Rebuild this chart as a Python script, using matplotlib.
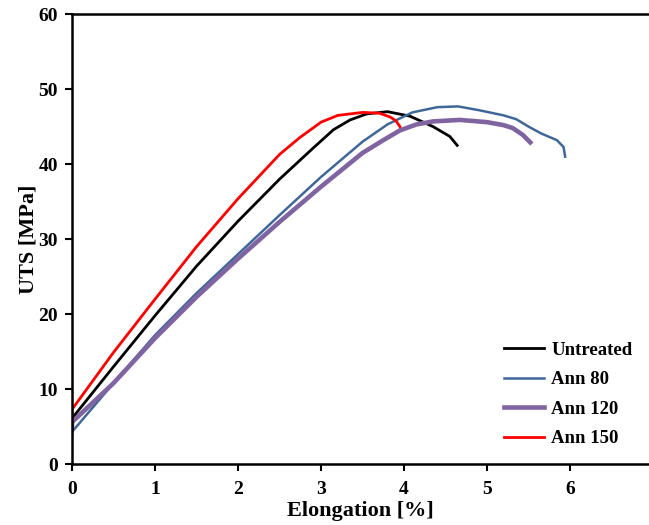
import matplotlib
matplotlib.use("Agg")
import matplotlib.pyplot as plt

# stress-strain curves: elongation [%] vs UTS [MPa]
untreated_x = [0, 0, 0.5, 1.0, 1.5, 2.0, 2.5, 2.9, 3.15, 3.35, 3.55, 3.8, 4.07, 4.35, 4.55, 4.64]
untreated_y = [5.5, 6.1, 13.0, 19.8, 26.4, 32.4, 38.0, 42.1, 44.6, 45.9, 46.7, 47.0, 46.4, 45.0, 43.7, 42.5]

ann80_x = [0, 0.5, 1.0, 1.5, 2.0, 2.5, 3.0, 3.5, 3.8, 4.1, 4.4, 4.65, 4.9, 5.2, 5.35, 5.5, 5.65, 5.84, 5.92, 5.94]
ann80_y = [4.3, 10.8, 17.2, 22.8, 28.0, 33.2, 38.3, 43.0, 45.3, 46.9, 47.6, 47.7, 47.2, 46.5, 46.0, 45.0, 44.1, 43.2, 42.3, 41.0]

ann120_x = [0, 0, 0.5, 1.0, 1.5, 2.0, 2.5, 3.0, 3.5, 3.75, 3.95, 4.15, 4.35, 4.67, 5.0, 5.2, 5.31, 5.43, 5.52]
ann120_y = [4.9, 5.6, 10.8, 16.8, 22.3, 27.4, 32.3, 37.0, 41.5, 43.2, 44.5, 45.3, 45.7, 45.9, 45.6, 45.2, 44.8, 43.9, 42.9]

ann150_x = [0, 0, 0.5, 1.0, 1.5, 2.0, 2.5, 2.75, 3.0, 3.2, 3.5, 3.7, 3.83, 3.9, 3.95]
ann150_y = [4.0, 7.3, 14.9, 22.0, 29.0, 35.4, 41.3, 43.6, 45.6, 46.5, 46.9, 46.8, 46.3, 45.8, 45.0]

x_ticks = [0, 1, 2, 3, 4, 5, 6]
y_ticks = [0, 10, 20, 30, 40, 50, 60]

plt.rcParams["font.family"] = ["Liberation Serif", "DejaVu Serif"]
plt.rcParams["font.weight"] = "bold"

fig = plt.figure(figsize=(6.49, 5.25), dpi=100)
ax = fig.add_axes([0.111, 0.116, 0.889, 0.857])

ax.plot(untreated_x, untreated_y, color="black", lw=2.0, label="Untreated")
ax.plot(ann80_x, ann80_y, color="#3f6899", lw=1.8, label="Ann 80")
ax.plot(ann120_x, ann120_y, color="#8064a2", lw=3.3, label="Ann 120")
ax.plot(ann150_x, ann150_y, color="#ff0000", lw=2.0, label="Ann 150")

ax.set_xlim(0, 6.95)
ax.set_ylim(0, 60)
ax.set_xticks(x_ticks)
ax.set_yticks(y_ticks)
ax.tick_params(direction="out", length=5, width=1.5, labelsize=14, pad=7)
ax.tick_params(axis="y", pad=5)
ax.spines["right"].set_visible(False)
for side in ["left", "bottom", "top"]:
    ax.spines[side].set_linewidth(1.8)

ax.set_xlabel("Elongation [%]", fontsize=16, fontweight="bold", labelpad=2)
ax.set_ylabel("UTS [MPa]", fontsize=16, fontweight="bold", labelpad=0)

ax.legend(loc="upper left", bbox_to_anchor=(0.72, 0.31), frameon=False,
          fontsize=13.5, handlelength=2.1, labelspacing=0.66, handletextpad=0.4)

fig.savefig("out.png", dpi=100)
